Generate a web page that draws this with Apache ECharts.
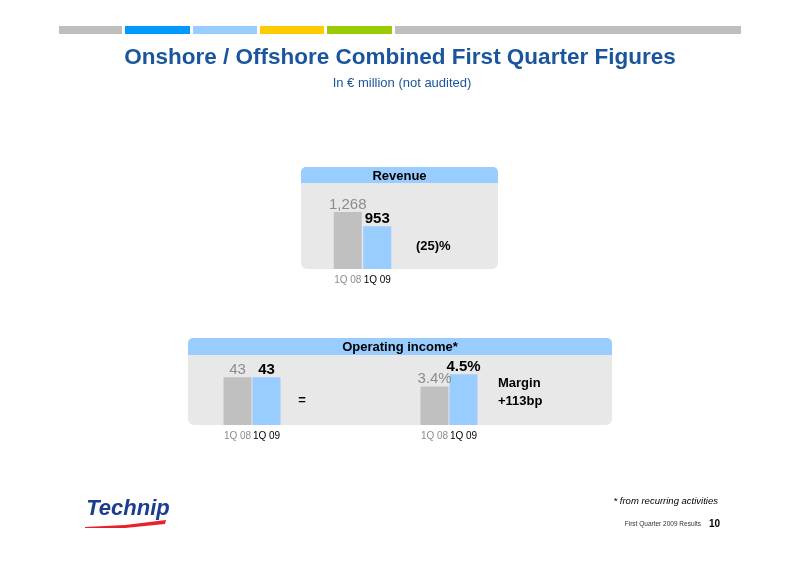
<!DOCTYPE html>
<html><head><meta charset="utf-8">
<script src="https://cdn.jsdelivr.net/npm/echarts@6/dist/echarts.min.js"></script>
<style>html,body{margin:0;padding:0;background:#fff}#c{width:800px;height:565px}</style>
</head><body><div id="c"></div>
<script>
var categories = ['1Q 08', '1Q 09'];
var revenueValues = [1268, 953];
var opIncomeValues = [43, 43];
var marginValues = [3.4, 4.5];
var revenueChange = '(25)%';
var opIncomeChange = '=';
var marginChange = ['Margin', '+113bp'];

var GRAY = '#C0C0C0', BLUE = '#99CCFF', PANEL = '#E8E8E8';
var FONT = '"Liberation Sans", Arial, sans-serif';

function items(vals) {
  return vals.map(function (v, i) {
    return {
      value: v,
      itemStyle: { color: i === 0 ? GRAY : BLUE },
      label: i === 0 ? { color: '#8C8C8C', fontWeight: 'normal' } : { color: '#000', fontWeight: 'bold' }
    };
  });
}
function xAxis(gi) {
  return {
    type: 'category', gridIndex: gi, data: categories,
    axisLine: { show: false }, axisTick: { show: false },
    axisLabel: {
      interval: 0, hideOverlap: false, margin: 6, fontSize: 10, fontFamily: FONT,
      formatter: function (v, i) { return i === 0 ? '{a|' + v + '}' : '{b|' + v + '}'; },
      rich: { a: { color: '#8C8C8C', fontSize: 10, fontFamily: FONT }, b: { color: '#000', fontSize: 10, fontFamily: FONT } }
    }
  };
}
function yAxis(gi, max) {
  return { type: 'value', gridIndex: gi, min: 0, max: max, show: false, splitLine: { show: false } };
}
function series(gi, vals, fmt) {
  return {
    type: 'bar', xAxisIndex: gi, yAxisIndex: gi, data: items(vals),
    barWidth: 28, barGap: '0%', silent: true,
    label: { show: true, position: 'top', distance: 0, fontSize: 15, fontFamily: FONT, formatter: fmt }
  };
}

var chart = echarts.init(document.getElementById('c'), null, { renderer: 'canvas' });

function panel(x, y, w, hh, h, title) {
  return [
    { type: 'rect', z: -2, shape: { x: x, y: y + hh, width: w, height: h - hh, r: [0, 0, 6, 6] }, style: { fill: PANEL } },
    { type: 'rect', z: -1, shape: { x: x, y: y, width: w, height: hh, r: [5, 5, 0, 0] }, style: { fill: BLUE } },
    { type: 'text', z: 0, x: x + w / 2, y: y + hh / 2 + 1, style: { text: title, fill: '#000', font: 'bold 13px ' + FONT, textAlign: 'center', textVerticalAlign: 'middle' } }
  ];
}

var topBars = [[59, 122, '#BEBEBE'], [125, 190, '#0099FF'], [193, 257, '#99CCFF'], [260, 324, '#FFCC00'], [327, 392, '#99CC00'], [395, 741, '#BEBEBE']];
var graphics = topBars.map(function (b) {
  return { type: 'rect', shape: { x: b[0], y: 26, width: b[1] - b[0], height: 8 }, style: { fill: b[2] } };
});
graphics = graphics.concat(panel(301, 167, 197, 16, 102, 'Revenue'));
graphics = graphics.concat(panel(188, 338, 424, 17, 87, 'Operating income*'));
graphics.push(
  { type: 'text', x: 400, y: 58, style: { text: 'Onshore / Offshore Combined First Quarter Figures', fill: '#1B559E', font: 'bold 22.5px ' + FONT, textAlign: 'center', textVerticalAlign: 'middle' } },
  { type: 'text', x: 402, y: 83, style: { text: 'In \u20ac million (not audited)', fill: '#1B559E', font: '13px ' + FONT, textAlign: 'center', textVerticalAlign: 'middle' } },
  { type: 'text', x: 416, y: 246, style: { text: revenueChange, fill: '#000', font: 'bold 13px ' + FONT, textAlign: 'left', textVerticalAlign: 'middle' } },
  { type: 'text', x: 302, y: 400, style: { text: opIncomeChange, fill: '#000', font: 'bold 13px ' + FONT, textAlign: 'center', textVerticalAlign: 'middle' } },
  { type: 'text', x: 498, y: 383, style: { text: marginChange[0], fill: '#000', font: 'bold 13px ' + FONT, textAlign: 'left', textVerticalAlign: 'middle' } },
  { type: 'text', x: 498, y: 401, style: { text: marginChange[1], fill: '#000', font: 'bold 13px ' + FONT, textAlign: 'left', textVerticalAlign: 'middle' } },
  { type: 'text', x: 718, y: 501, style: { text: '* from recurring activities', fill: '#000', font: 'italic 9.5px ' + FONT, textAlign: 'right', textVerticalAlign: 'middle' } },
  { type: 'text', x: 701, y: 524, style: { text: 'First Quarter 2009 Results', fill: '#333', font: '6.5px ' + FONT, textAlign: 'right', textVerticalAlign: 'middle' } },
  { type: 'text', x: 720, y: 524, style: { text: '10', fill: '#000', font: 'bold 10px ' + FONT, textAlign: 'right', textVerticalAlign: 'middle' } },
  { type: 'text', x: 128, y: 509, style: { text: 'Technip', fill: '#1A3D8F', font: 'italic bold 22px ' + FONT, textAlign: 'center', textVerticalAlign: 'middle' } },
  { type: 'polygon', shape: { points: [[85, 527], [125, 525], [166, 520], [165, 524], [125, 528], [85, 528]] }, style: { fill: '#E8202A' } }
);

chart.setOption({
  animation: false,
  backgroundColor: '#fff',
  grid: [
    { left: 333, width: 59, top: 184, height: 85 },
    { left: 223, width: 58, top: 355, height: 70 },
    { left: 420, width: 58, top: 355, height: 70 }
  ],
  xAxis: [xAxis(0), xAxis(1), xAxis(2)],
  yAxis: [yAxis(0, 1890), yAxis(1, 63), yAxis(2, 6.2)],
  series: [
    series(0, revenueValues, function (p) { return p.value.toLocaleString('en-US'); }),
    series(1, opIncomeValues, function (p) { return String(p.value); }),
    series(2, marginValues, function (p) { return p.value.toFixed(1) + '%'; })
  ],
  graphic: graphics
});
</script></body></html>
